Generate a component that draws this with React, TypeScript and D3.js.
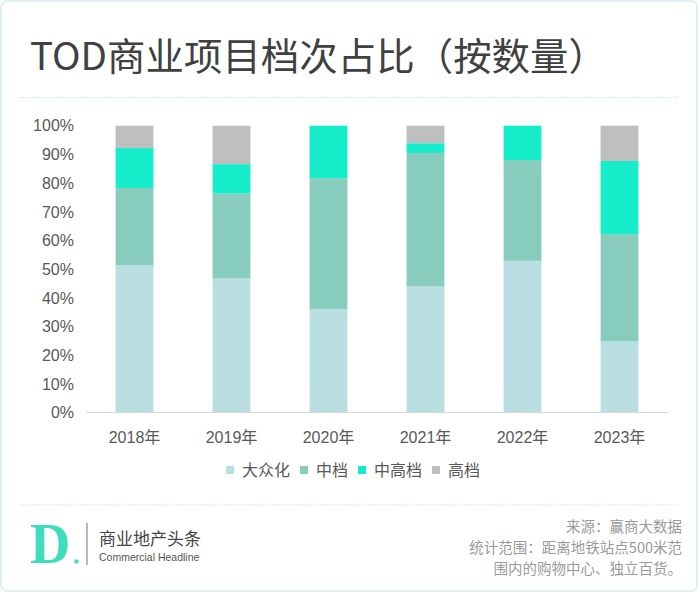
import React from "react";
import * as d3 from "d3";

const years = ["2018年", "2019年", "2020年", "2021年", "2022年", "2023年"];
const seriesNames = ["大众化", "中档", "中高档", "高档"];
const massMarket = [51.4, 46.7, 36.1, 43.9, 52.9, 24.9];
const midRange = [26.9, 29.7, 45.6, 46.6, 35.1, 37.3];
const midHigh = [13.9, 10.2, 18.3, 3.4, 12.0, 25.5];
const highEnd = [7.8, 13.4, 0, 6.1, 0, 12.3];
const yTicks = [0, 10, 20, 30, 40, 50, 60, 70, 80, 90, 100];
const colors = ["#b9dfe2", "#88ccbe", "#14ecca", "#bfbfbf"];

const title = "TOD商业项目档次占比（按数量）";
const sourceLines = ["来源：赢商大数据", "统计范围：距离地铁站点500米范", "围内的购物中心、独立百货。"];

export default function App() {
  const W = 700;
  const H = 596;
  const rows = years.map((y, i) => ({
    year: y,
    [seriesNames[0]]: massMarket[i],
    [seriesNames[1]]: midRange[i],
    [seriesNames[2]]: midHigh[i],
    [seriesNames[3]]: highEnd[i],
  }));
  const stacked = d3.stack<any>().keys(seriesNames)(rows);
  const x = d3.scaleBand<string>().domain(years).range([86, 668]).paddingInner(0.61).paddingOuter(0.305);
  const y = d3.scaleLinear().domain([0, 100]).range([412.5, 125.7]);

  const cjk = "'Noto Sans CJK SC', 'Liberation Sans', sans-serif";
  const latin = "'Liberation Sans', Arial, 'Noto Sans CJK SC', sans-serif";

  // legend layout
  const legendFont = 16;
  let lx = 226;
  const legendItems = seriesNames.map((n, i) => {
    const item = { name: n, x: lx, color: colors[i] };
    lx += 8 + 8 + n.length * legendFont + 10;
    return item;
  });

  return (
    <svg
      width={W}
      height={H}
      style={{ position: "absolute", left: 0, top: 0, background: "#fff" }}
    >
      <rect x={1} y={1} width={696} height={590} rx={6} fill="#fff" stroke="#d6ecee" strokeWidth={1.5} />
      <text
        x={30}
        y={70}
        fontFamily={cjk}
        fontSize={38}
        fill="#404040"
        textLength={577}
        lengthAdjust="spacingAndGlyphs"
      >
        {title}
      </text>
      <line x1={20} x2={678} y1={97.5} y2={97.5} stroke="#bfe3e3" strokeWidth={1} strokeDasharray="1.5 1.5" />

      {/* y axis labels */}
      {yTicks.map((t) => (
        <text
          key={t}
          x={74}
          y={y(t)}
          dy="0.36em"
          textAnchor="end"
          fontFamily={latin}
          fontSize={16}
          fill="#595959"
        >
          {t + "%"}
        </text>
      ))}

      {/* bars */}
      {stacked.map((s, si) => (
        <g key={s.key} fill={colors[si]}>
          {s.map((d, i) =>
            d[1] - d[0] > 0 ? (
              <rect
                key={i}
                x={x(years[i])}
                width={x.bandwidth()}
                y={y(d[1])}
                height={y(d[0]) - y(d[1])}
              />
            ) : null
          )}
        </g>
      ))}

      <line x1={86} x2={668} y1={412.5} y2={412.5} stroke="#d9d9d9" strokeWidth={1.2} />

      {years.map((yr) => (
        <text
          key={yr}
          x={(x(yr) as number) + x.bandwidth() / 2}
          y={443}
          textAnchor="middle"
          fontFamily={latin}
          fontSize={16}
          fill="#595959"
        >
          {yr}
        </text>
      ))}

      {/* legend */}
      {legendItems.map((it) => (
        <g key={it.name}>
          <rect x={it.x} y={466} width={8} height={8} fill={it.color} />
          <text x={it.x + 16} y={476} fontFamily={cjk} fontSize={legendFont} fill="#595959">
            {it.name}
          </text>
        </g>
      ))}

      <line x1={20} x2={680} y1={505} y2={505} stroke="#c9e6e6" strokeWidth={1} strokeDasharray="1.5 1.5" />

      {/* logo */}
      <text x={30} y={563} fontFamily="'Liberation Serif', 'DejaVu Serif', serif" fontWeight="bold" fontSize={56} fill="#3fdcbe">
        D
      </text>
      <circle cx={76.5} cy={561.5} r={2.2} fill="#3fdcbe" />
      <line x1={87} x2={87} y1={523} y2={565} stroke="#777" strokeWidth={1} />
      <text x={99} y={545} fontFamily={cjk} fontSize={17} fill="#444">
        商业地产头条
      </text>
      <text x={99} y={561} fontFamily={latin} fontSize={10.5} fill="#555">
        Commercial Headline
      </text>

      {sourceLines.map((l, i) => (
        <text
          key={i}
          x={682}
          y={532 + i * 21}
          textAnchor="end"
          fontFamily={cjk}
          fontSize={14.5}
          fill="#9a9a9a"
        >
          {l}
        </text>
      ))}
    </svg>
  );
}
